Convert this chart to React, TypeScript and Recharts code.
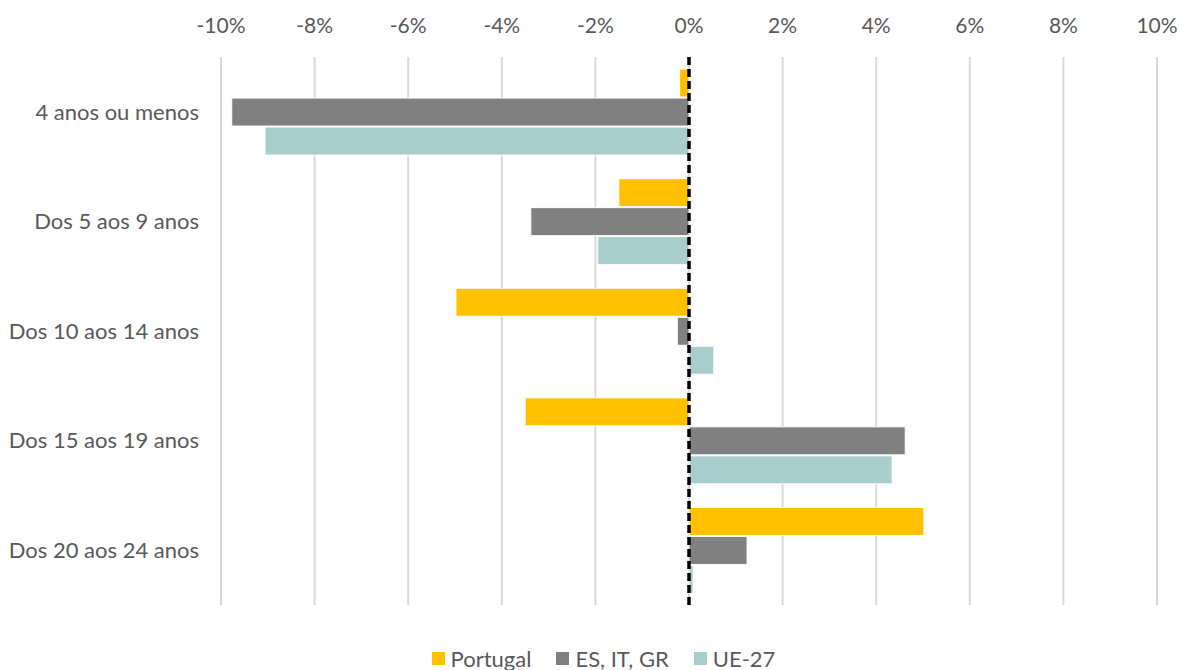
import React from "react";
import {
  BarChart,
  Bar,
  XAxis,
  YAxis,
  CartesianGrid,
  Legend,
  ReferenceLine,
} from "recharts";

const categories = [
  "4 anos ou menos",
  "Dos 5 aos 9 anos",
  "Dos 10 aos 14 anos",
  "Dos 15 aos 19 anos",
  "Dos 20 aos 24 anos",
];

// variação em %
const portugal = [-0.2, -1.5, -4.98, -3.5, 5.02];
const esItGr = [-9.77, -3.38, -0.25, 4.62, 1.24];
const ue27 = [-9.06, -1.95, 0.53, 4.34, 0.09];

const xTicks = [-10, -8, -6, -4, -2, 0, 2, 4, 6, 8, 10];

const series = [
  { key: "Portugal", color: "#FFC000" },
  { key: "ES, IT, GR", color: "#808080" },
  { key: "UE-27", color: "#A9CDCD" },
];

const data = categories.map((name, i) => ({
  name,
  Portugal: portugal[i],
  "ES, IT, GR": esItGr[i],
  "UE-27": ue27[i],
}));

const FONT = "Lato, sans-serif";
const GREY = "#595959";

function LegendBox() {
  return (
    <div
      style={{
        display: "flex",
        justifyContent: "center",
        gap: 25,
        paddingLeft: 50,
        fontFamily: FONT,
        fontSize: 22,
        color: GREY,
      }}
    >
      {series.map((s) => (
        <div key={s.key} style={{ display: "flex", alignItems: "center" }}>
          <span style={{ width: 13, height: 13, background: s.color, marginRight: 6, display: "inline-block" }} />
          <span>{s.key}</span>
        </div>
      ))}
    </div>
  );
}

export default function App() {
  return (
    <div style={{ position: "absolute", left: 0, top: 0, fontFamily: FONT }}>
      <BarChart
        width={1179}
        height={670}
        data={data}
        layout="vertical"
        margin={{ top: 0, right: 22, left: 0, bottom: 38 }}
        barCategoryGap="11%"
        barGap={1}
      >
        <CartesianGrid horizontal={false} stroke="#d9d9d9" strokeWidth={2} />
        <XAxis
          type="number"
          orientation="top"
          domain={[-10, 10]}
          ticks={xTicks}
          tickFormatter={(v: number) => `${v}%`}
          axisLine={false}
          tickLine={false}
          height={57}
          tickMargin={18}
          tick={{ fill: GREY, fontSize: 21, fontFamily: FONT }}
        />
        <YAxis
          type="category"
          dataKey="name"
          width={221}
          axisLine={false}
          tickLine={false}
          tickMargin={16}
          tick={{ fill: GREY, fontSize: 22, fontFamily: FONT }}
        />
        <Legend
          verticalAlign="bottom"
          content={() => <LegendBox />}
          wrapperStyle={{ bottom: -2 }}
        />
        {series.map((s) => (
          <Bar
            key={s.key}
            dataKey={s.key}
            fill={s.color}
            stroke="#fff"
            strokeWidth={1}
            isAnimationActive={false}
          />
        ))}
        <ReferenceLine x={0} stroke="#000" strokeWidth={3.5} strokeDasharray="8 4" />
      </BarChart>
    </div>
  );
}
